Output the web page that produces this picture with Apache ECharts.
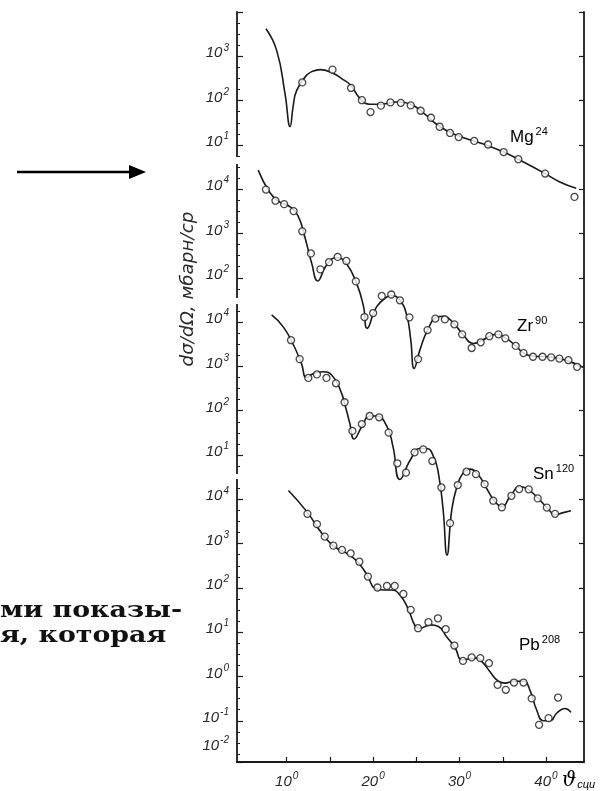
<!DOCTYPE html>
<html>
<head>
<meta charset="utf-8">
<style>
  html, body { margin: 0; padding: 0; background: #fff; }
  #chart { width: 606px; height: 791px; }
</style>
<script src="https://cdn.jsdelivr.net/npm/echarts@6/dist/echarts.min.js"></script>
</head>
<body>
<div id="chart"></div>
<script>
// angle (deg, c.m.) -> dσ/dΩ (mb/sr); curves = theory, points = experiment
const mgCurve = [[7.6, 4200], [8.84, 1360], [9.8, 145], [10.4, 26],
  [10.75, 75], [11.16, 170], [12.3, 372], [13.0, 460], [13.9, 500], [15.4, 407], [16.4, 310], [17.4, 222],
  [18.5, 111], [19.6, 83], [21.0, 83], [22.7, 93], [24.3, 83], [25.8, 53], [27.7, 26], [29.7, 16.5],
  [32.4, 11], [35.1, 6.9], [37.4, 4.1], [39.9, 2.25], [41.6, 1.46], [43.5, 1.05]]
const mgPoints = [[11.8, 257], [15.3, 500], [17.45, 193], [18.7, 102], [19.7, 55], [20.9, 77], [22.0, 91],
  [23.2, 89], [24.35, 78], [25.5, 59], [26.7, 41], [27.7, 25.7], [28.9, 18.6], [29.9, 15], [31.7, 12.3],
  [33.3, 10.2], [35.1, 6.9], [36.8, 4.75], [39.9, 2.25], [43.3, 0.67]]

const zrCurve = [[6.7, 27000], [8.07, 8300], [9.2, 5100], [10.4, 4000], [11.35, 2400], [12.1, 830],
  [12.9, 210], [13.6, 85], [14.6, 193], [15.8, 288], [16.9, 210], [18.1, 74], [18.9, 22], [19.3, 7.2],
  [20.4, 22], [21.6, 37], [22.1, 40], [23.1, 31], [23.9, 14], [24.35, 4], [24.75, 0.9], [25.4, 2.3],
  [26.3, 6.6], [27.4, 13], [28.1, 13.6], [29.3, 9.5], [30.4, 5.2], [31.6, 3.3], [32.6, 3.9], [34.3, 5.3],
  [35.4, 4.3], [36.6, 2.8], [37.4, 2.0], [38.5, 1.7], [40.3, 1.65], [42.4, 1.35], [44.3, 0.95]]
const zrPoints = [[7.6, 9800], [8.7, 5500], [9.7, 4600], [10.8, 3200], [11.8, 1120], [12.8, 355],
  [13.9, 155], [14.9, 225], [15.9, 296], [16.9, 240], [18.0, 83], [19.0, 13], [20.0, 16], [21.0, 39],
  [22.1, 42], [23.1, 31], [24.2, 12.8], [25.2, 1.46], [26.3, 6.6], [27.2, 12], [28.3, 11.5], [29.4, 8.9],
  [30.3, 5.3], [31.4, 2.6], [32.45, 3.5], [33.45, 4.8], [34.5, 5.3], [35.3, 4.3], [36.5, 2.9], [37.4, 2.0],
  [38.5, 1.65], [39.6, 1.65], [40.6, 1.6], [41.55, 1.5], [42.6, 1.38], [43.6, 0.98]]

const snCurve = [[8.26, 14500], [9.6, 7800], [10.8, 3000], [11.7, 1170], [12.3, 560], [13.1, 690],
  [14.2, 760], [15.2, 640], [16.2, 295], [16.9, 104], [17.3, 52], [17.8, 23], [18.7, 44], [19.6, 76],
  [20.4, 76], [21.6, 44], [22.3, 15.5], [23.1, 2.8], [24.3, 7.7], [25.4, 14], [26.2, 14], [27.0, 9.1],
  [27.55, 3.9], [28.1, 0.58], [28.55, 0.055], [29.1, 0.58], [29.7, 1.95], [30.4, 3.9], [31.2, 4.8],
  [32.2, 3.5], [33.1, 1.8], [34.1, 0.89], [34.9, 0.68], [35.85, 1.15], [37.0, 1.95], [37.9, 1.7],
  [39.1, 1.05], [40.3, 0.59], [41.05, 0.45], [42.0, 0.5], [42.9, 0.55]]
const snPoints = [[10.5, 3900], [11.5, 1460], [12.5, 550], [13.5, 660], [14.6, 550], [15.7, 415],
  [16.7, 155], [17.6, 35], [18.7, 50], [19.6, 76], [20.7, 71], [21.8, 32], [22.8, 6.5], [23.8, 4.0],
  [24.8, 11.5], [25.8, 13.4], [26.85, 7.3], [27.9, 1.85], [28.9, 0.29], [29.8, 2.1], [30.8, 4.2],
  [31.9, 3.7], [32.9, 2.2], [33.9, 0.93], [34.9, 0.66], [36.0, 1.2], [36.9, 1.7], [38.0, 1.68],
  [39.05, 1.05], [40.1, 0.65], [41.05, 0.47]]

const pbCurve = [[10.2, 15800], [12.35, 5200], [14.2, 1580], [15.8, 785], [17.3, 550], [18.5, 330],
  [19.4, 180], [20.2, 98], [21.2, 90], [22.1, 90], [23.1, 69], [24.1, 32], [24.85, 14], [25.4, 12.3],
  [26.6, 14.6], [27.55, 13.5], [28.5, 7.9], [29.5, 4.4], [30.25, 2.35], [30.9, 2.45], [32.0, 2.6],
  [32.75, 2.0], [33.5, 1.3], [34.5, 0.78], [35.3, 0.71], [36.2, 0.78], [37.4, 0.78], [38.2, 0.46],
  [38.9, 0.18], [39.7, 0.10], [40.5, 0.10], [41.25, 0.15], [42.2, 0.19], [42.9, 0.155]]
const pbPoints = [[12.4, 4700], [13.5, 2750], [14.4, 1440], [15.4, 900], [16.4, 720], [17.4, 600],
  [18.4, 390], [19.4, 180], [20.5, 102], [21.6, 111], [22.5, 111], [23.5, 73], [24.35, 32], [25.2, 12.3],
  [26.4, 16.8], [27.5, 20.6], [28.4, 11.7], [29.4, 5.0], [30.4, 2.25], [31.4, 2.7], [32.4, 2.6],
  [33.4, 2.0], [34.4, 0.65], [35.35, 0.5], [36.3, 0.73], [37.4, 0.73], [38.35, 0.32], [39.2, 0.081],
  [40.3, 0.115], [41.4, 0.335]]

// decade exponents labelled on each panel of the left axis
const mgDecades = [3, 2, 1]
const zrDecades = [4, 3, 2]
const snDecades = [4, 3, 2, 1]
const pbDecades = [4, 3, 2, 1, 0, -1, -2]

// where 10^0 of each panel sits on the shared stacked axis (one unit = one decade)
const mgShift = 3, zrShift = 7, snShift = 10, pbShift = 14

const angleTicks = [10, 15, 20, 25, 30, 35, 40]
const angleLabels = [10, 20, 30, 40]

const yMin = -1
const yMax = 15.93

const stack = (pts, shift) => pts.map(p => [p[0], shift - Math.log10(p[1])])

// left-axis labels: stacked position -> exponent
const leftLabelMap = {}
const addDecades = (list, shift) => list.forEach(e => {
  const pos = Math.min(shift - e, yMax - 0.3)
  leftLabelMap[pos.toFixed(2)] = e
})
addDecades(mgDecades, mgShift)
addDecades(zrDecades, zrShift)
addDecades(snDecades, snShift)
addDecades(pbDecades, pbShift)
const leftLabelPos = Object.keys(leftLabelMap).map(Number)

const ink = '#1a1a1a'
const axisFont = 'Liberation Sans'

const lineSeries = (name, pts, shift) => ({
  name, type: 'line', data: stack(pts, shift),
  smooth: 0.5, showSymbol: false,
  lineStyle: { color: ink, width: 1.6 }, z: 2, silent: true
})
const dotSeries = (name, pts, shift) => ({
  name, type: 'scatter', data: stack(pts, shift),
  symbol: 'circle', symbolSize: 7,
  itemStyle: { color: '#fff', borderColor: ink, borderWidth: 1.3 }, z: 3, silent: true
})

const supRich = {
  b: { fontSize: 15, fontStyle: 'italic', fontFamily: axisFont, color: '#2a2a2a' },
  s: { fontSize: 10, fontStyle: 'italic', fontFamily: axisFont, color: '#2a2a2a', padding: [0, 0, 11, 1] }
}

const nucleusLabel = (sym, mass, x, y) => ({
  type: 'text', left: x, top: y, z: 10,
  style: {
    text: '{m|' + sym + '}{a|' + mass + '}',
    rich: {
      m: { fontSize: 17, fontFamily: axisFont, color: ink },
      a: { fontSize: 11, fontFamily: axisFont, color: ink, padding: [0, 0, 11, 2] }
    }
  }
})

const chart = echarts.init(document.getElementById('chart'))

chart.setOption({
  backgroundColor: '#fff',
  animation: false,
  grid: { left: 237, right: 22, top: 12, bottom: 29 },
  xAxis: {
    type: 'value', min: 4.25, max: 44.4,
    axisLine: { onZero: false, lineStyle: { color: ink, width: 1.8 } },
    axisTick: { customValues: angleTicks, inside: true, length: 5, lineStyle: { color: ink, width: 1.2 } },
    axisLabel: {
      customValues: angleLabels, margin: 9,
      formatter: v => '{b|' + v + '}{s|0}',
      rich: supRich
    },
    splitLine: { show: false }
  },
  yAxis: [
    {
      type: 'value', position: 'left', inverse: true, min: yMin, max: yMax, interval: 1,
      axisLine: { onZero: false, lineStyle: { color: ink, width: 1.8 } },
      axisTick: { inside: true, length: 6, lineStyle: { color: ink, width: 1.2 } },
      minorTick: { show: true, splitNumber: 4, length: 3, lineStyle: { color: ink, width: 1 } },
      axisLabel: {
        customValues: leftLabelPos, margin: 8, padding: [0, 0, 6, 0],
        formatter: v => {
          const e = leftLabelMap[Number(v).toFixed(2)]
          return e === undefined ? '' : '{b|10}{s|' + e + '}'
        },
        rich: supRich
      },
      splitLine: { show: false }
    },
    {
      type: 'value', position: 'right', inverse: true, min: yMin, max: yMax, interval: 1,
      axisLine: { show: true, onZero: false, lineStyle: { color: ink, width: 1.8 } },
      axisTick: { show: true, inside: true, length: 5, lineStyle: { color: ink, width: 1.2 } },
      axisLabel: { show: false },
      splitLine: { show: false }
    }
  ],
  series: [
    lineSeries('Mg24', mgCurve, mgShift), dotSeries('Mg24 exp', mgPoints, mgShift),
    lineSeries('Zr90', zrCurve, zrShift), dotSeries('Zr90 exp', zrPoints, zrShift),
    lineSeries('Sn120', snCurve, snShift), dotSeries('Sn120 exp', snPoints, snShift),
    lineSeries('Pb208', pbCurve, pbShift), dotSeries('Pb208 exp', pbPoints, pbShift)
  ],
  graphic: [
    // breaks in the left axis between panels
    { type: 'rect', shape: { x: 234, y: 157, width: 7, height: 7 }, style: { fill: '#fff' }, z: 20 },
    { type: 'rect', shape: { x: 234, y: 298, width: 7, height: 6 }, style: { fill: '#fff' }, z: 20 },
    { type: 'rect', shape: { x: 234, y: 474, width: 7, height: 5 }, style: { fill: '#fff' }, z: 20 },
    nucleusLabel('Mg', 24, 510, 126),
    nucleusLabel('Zr', 90, 517, 315),
    nucleusLabel('Sn', 120, 533, 463),
    nucleusLabel('Pb', 208, 519, 634),
    {
      type: 'text', x: 189, y: 289, rotation: Math.PI / 2, scaleX: 1.08, z: 10,
      style: {
        text: 'dσ/dΩ, мбарн/ср', align: 'center', verticalAlign: 'middle',
        font: 'italic 17px "DejaVu Sans"', fill: '#2a2a2a'
      }
    },
    {
      type: 'text', left: 562, top: 771, z: 10,
      style: {
        text: '{t|ϑ}{c|сци}',
        rich: {
          t: { fontSize: 20, fontStyle: 'italic', fontFamily: 'DejaVu Serif', color: ink },
          c: { fontSize: 11, fontStyle: 'italic', fontFamily: axisFont, color: ink, padding: [8, 0, 0, 1] }
        }
      }
    },
    // arrow on the left margin
    { type: 'line', shape: { x1: 17, y1: 172, x2: 132, y2: 172 }, style: { stroke: '#000', lineWidth: 2.5 } },
    { type: 'polygon', shape: { points: [[129, 165], [146, 172], [129, 179]] }, style: { fill: '#000' } },
    // fragment of the page text next to the figure
    { type: 'text', x: 0, y: 600, scaleX: 1.22, style: { text: 'ми показы-', font: 'bold 22px "DejaVu Serif"', fill: '#111' } },
    { type: 'text', x: 0, y: 625, scaleX: 1.22, style: { text: 'я, которая', font: 'bold 22px "DejaVu Serif"', fill: '#111' } }
  ]
})
</script>
</body>
</html>
